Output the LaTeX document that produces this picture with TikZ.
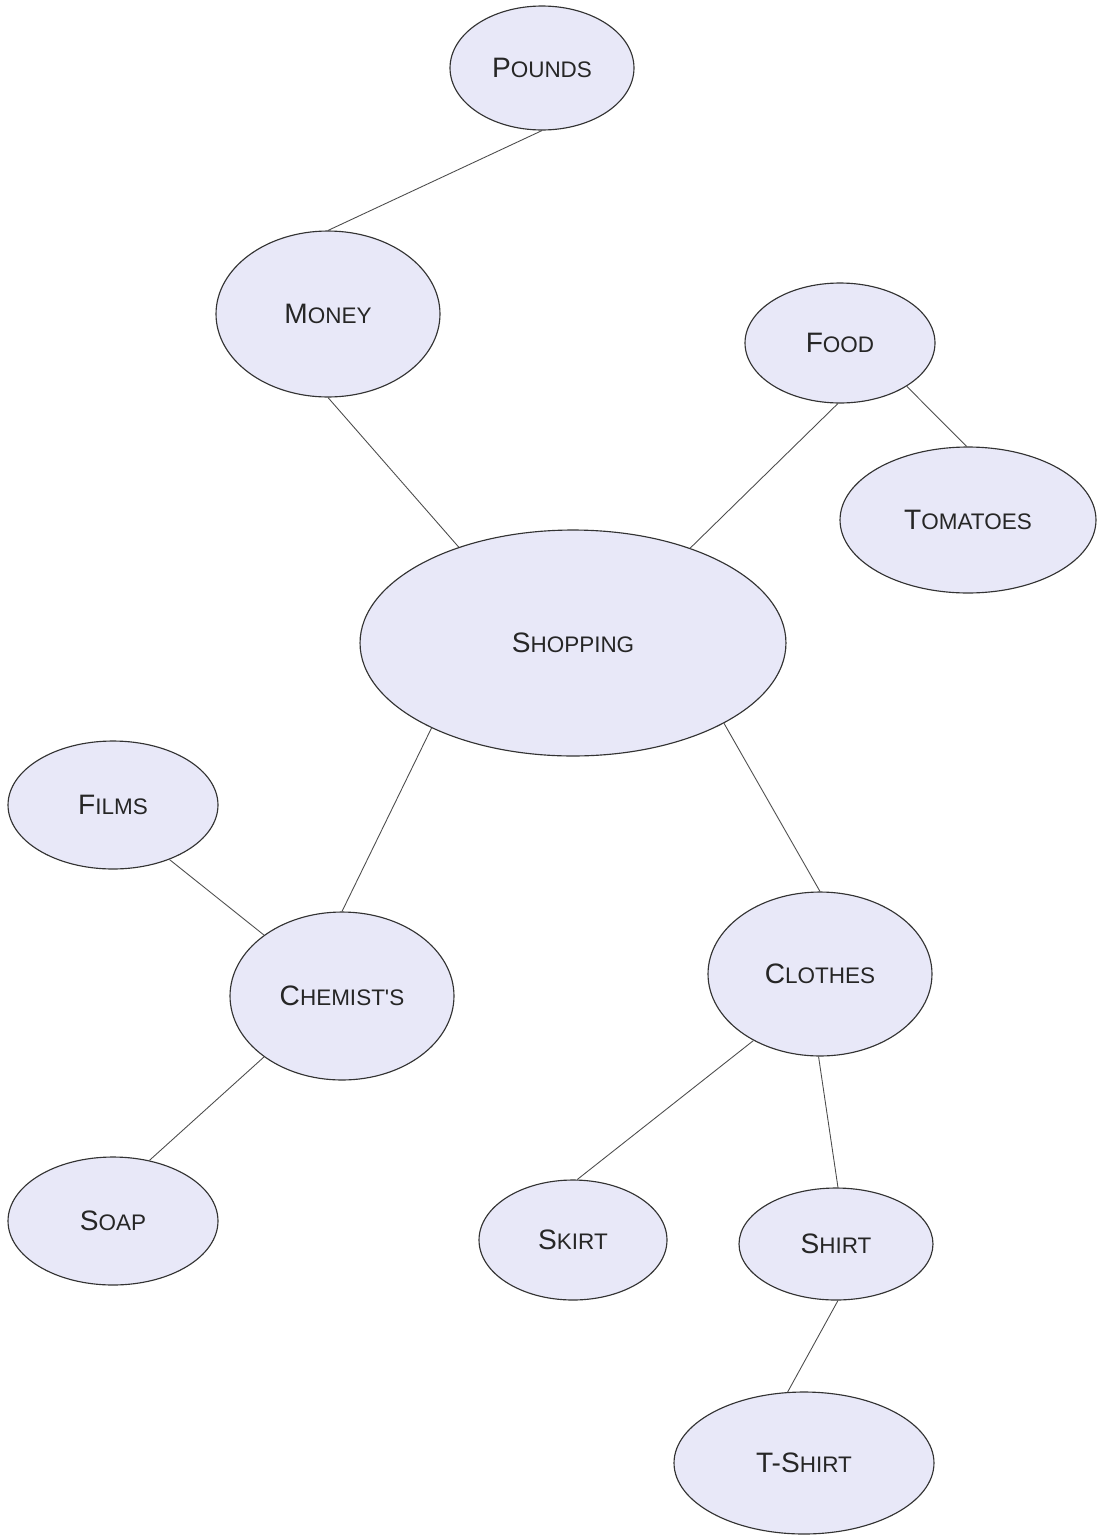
\documentclass[tikz,border=0pt]{standalone}
\usepackage{fontspec}
\setmainfont{Liberation Sans}
\usetikzlibrary{shapes.geometric}
\definecolor{bubblefill}{RGB}{232,232,248}
\newcommand{\capword}[2]{{\fontsize{16}{19}\selectfont #1}{\fontsize{12.8}{15}\selectfont #2}}

\begin{document}
\begin{tikzpicture}[x=0.02cm, y=-0.02cm,
  bubble/.style={draw=black!80, line width=0.65pt, fill=bubblefill, ellipse, inner sep=0cm, text=black!85},
  link/.style={draw=black!70, line width=0.5pt}]
\useasboundingbox (0,0) rectangle (1096,1535);

\node[bubble, minimum width=3.68cm, minimum height=2.48cm] (pounds) at (542,68) {\capword{P}{OUNDS}};
\node[bubble, minimum width=4.48cm, minimum height=3.32cm] (money) at (328,314) {\capword{M}{ONEY}};
\node[bubble, minimum width=3.80cm, minimum height=2.40cm] (food) at (840,343) {\capword{F}{OOD}};
\node[bubble, minimum width=5.12cm, minimum height=2.92cm] (tomatoes) at (968,520) {\capword{T}{OMATOES}};
\node[bubble, minimum width=8.52cm, minimum height=4.52cm] (shopping) at (573,643) {\capword{S}{HOPPING}};
\node[bubble, minimum width=4.20cm, minimum height=2.56cm] (films) at (113,805) {\capword{F}{ILMS}};
\node[bubble, minimum width=4.48cm, minimum height=3.36cm] (chemists) at (342,996) {\capword{C}{HEMIST\textquotesingle S}};
\node[bubble, minimum width=4.48cm, minimum height=3.28cm] (clothes) at (820,974) {\capword{C}{LOTHES}};
\node[bubble, minimum width=4.20cm, minimum height=2.56cm] (soap) at (113,1221) {\capword{S}{OAP}};
\node[bubble, minimum width=3.76cm, minimum height=2.40cm] (skirt) at (573,1240) {\capword{S}{KIRT}};
\node[bubble, minimum width=3.88cm, minimum height=2.24cm] (shirt) at (836,1244) {\capword{S}{HIRT}};
\node[bubble, minimum width=5.20cm, minimum height=2.84cm] (tshirt) at (804,1463) {\capword{T-S}{HIRT}};

\draw[link] (pounds.270) -- (money.90);
\draw[link] (money.270) -- (shopping.140);
\draw[link] (food.268) -- (shopping.39);
\draw[link] (food.327) -- (tomatoes.91);
\draw[link] (shopping.211) -- (chemists.90);
\draw[link] (shopping.332) -- (clothes.90);
\draw[link] (films.316) -- (chemists.142);
\draw[link] (chemists.218) -- (soap.59);
\draw[link] (clothes.225) -- (skirt.86);
\draw[link] (clothes.269) -- (shirt.88);
\draw[link] (shirt.272) -- (tshirt.103);
\end{tikzpicture}
\end{document}
